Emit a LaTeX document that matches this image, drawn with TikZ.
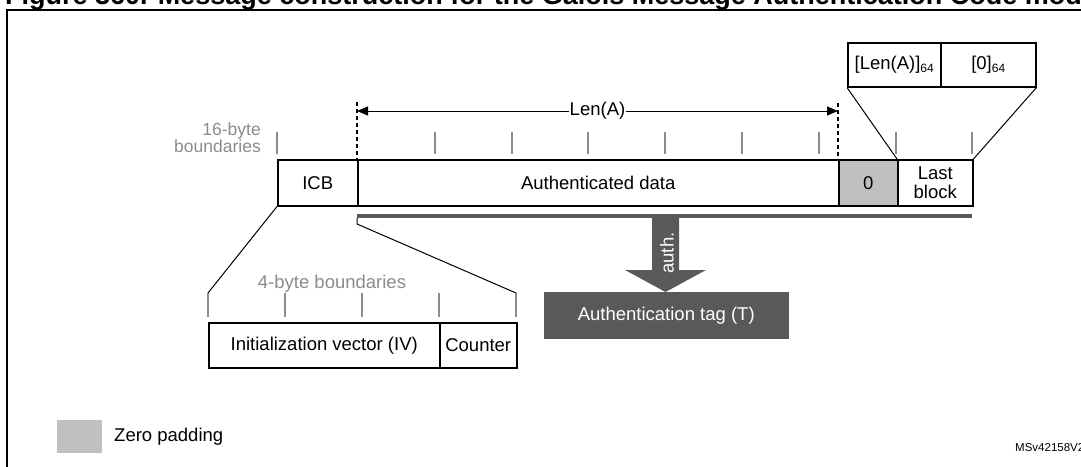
\documentclass[tikz,border=0pt]{standalone}
\usepackage{fontspec}
\setmainfont{Liberation Sans}
\usetikzlibrary{arrows.meta}
\definecolor{dgray}{HTML}{595959}
\definecolor{zgray}{HTML}{C0C0C0}
\definecolor{tgray}{HTML}{8C8C8C}
\newcommand{\subsix}[1]{\raisebox{-3pt}{\fontsize{12}{12}\selectfont #1}}
\begin{document}
\begin{tikzpicture}[x=1pt,y=-1pt,
  box/.style={draw,line width=1.5pt,inner sep=0pt,anchor=north west,
    font=\fontsize{18.5}{20}\selectfont,align=center},
  tickline/.style={draw=tgray,line width=2pt},
  zoomline/.style={line width=1pt},
  graytext/.style={inner sep=0pt,text=tgray,font=\fontsize{18.5}{18.5}\selectfont},
  dashline/.style={line width=1.2pt,dash pattern=on 4pt off 3pt},
]
\useasboundingbox (0,0) rectangle (1081,466);
\clip (0,0) rectangle (1081,466);
\fill[white] (0,0) rectangle (1081,466);

% title (cut by the top edge) and frame
\node[anchor=base west,inner sep=0pt,font=\fontsize{27}{30}\selectfont\bfseries] (title) at (5,4)
  {Figure 360. Message construction for the Galois Message Authentication Code mode};
\draw[line width=2pt] (7,480) -- (7,10) -- (1100,10);

% main row
\node[box,minimum width=80,minimum height=46] (icb) at (277,159) {ICB};
\node[box,minimum width=481,minimum height=46] (ad) at (357,159) {Authenticated data};
\node[box,fill=zgray,minimum width=59,minimum height=46] (zero) at (838,159) {0};
\node[box,minimum width=75,minimum height=46,font=\fontsize{18.5}{19}\selectfont] (last) at (897,159) {Last\\block};

% last block detail
\node[box,minimum width=93,minimum height=44] (lenbox) at (847,42) {[Len(A)]\subsix{64}};
\node[box,minimum width=95,minimum height=44] (zbox) at (940,42) {[0]\subsix{64}};

% ICB detail
\node[box,minimum width=231,minimum height=45] (iv) at (208,322) {Initialization vector (IV)};
\node[box,minimum width=77,minimum height=45] (ctr) at (439,322) {Counter};

% authentication tag
\node[box,draw=dgray,fill=dgray,text=white,minimum width=243,minimum height=45] (tag) at (544,292) {Authentication tag (T)};

% boundary labels
\node[graytext,anchor=base east,font=\fontsize{17.5}{17.5}\selectfont] (b16a) at (261,135) {16-byte};
\node[graytext,anchor=base east,font=\fontsize{17.5}{17.5}\selectfont] (b16b) at (261,152) {boundaries};
\node[graytext,anchor=base] (b4) at (332,288) {4-byte boundaries};

% ticks
\foreach \x in {277,435,512,588,665,742,819,896,972} \draw[tickline] (\x,132) -- (\x,154);
\foreach \x in {208,285,362,439,516} \draw[tickline] (\x,293) -- (\x,317);

% Len(A) dimension
\coordinate (d1) at (357,102);
\coordinate (d2) at (838,103);
\draw[dashline] (d1) -- (ad.north west);
\draw[dashline] (d2) -- (zero.north west);
\coordinate (la) at (357,111);
\coordinate (lb) at (838,111);
\draw[line width=1pt,{Triangle[length=11pt,width=9pt]}-{Triangle[length=11pt,width=9pt]}]
  (la) -- node[fill=white,inner sep=1pt,font=\fontsize{18.5}{18.5}\selectfont] (lenl) {Len(A)} (lb);

% bar
\coordinate (bara) at (357,216);
\coordinate (barb) at (972,216);
\draw[dgray,line width=4pt] (bara) -- (barb);

% auth arrow
\fill[dgray] (652,218) -- (679,218) -- (679,270) -- (706,270) -- (665.5,292) -- (625,270) -- (652,270) -- cycle;
\node[rotate=90,text=white,inner sep=0pt,font=\fontsize{18.5}{18.5}\selectfont] (auth) at (667,253) {auth.};

% zoom lines
\draw[zoomline] (lenbox.south west) -- (last.north west);
\draw[zoomline] (zbox.south east) -- (last.north east);
\coordinate (t4a) at (208,293);
\coordinate (t4e) at (516,293);
\coordinate (adb) at (357,218);
\draw[zoomline] (icb.south west) -- (t4a);
\draw[zoomline] (adb) -- (357,224) -- (t4e);

% legend
\node[fill=zgray,inner sep=0pt,minimum width=45,minimum height=33,anchor=north west] (leg) at (57,420) {};
\node[anchor=west,inner sep=0pt,font=\fontsize{18.5}{18.5}\selectfont] (legt) at (114,437) {Zero padding};
\node[anchor=base west,inner sep=0pt,font=\fontsize{11.5}{13}\selectfont] (ms) at (1015,451) {MSv42158V2};
\end{tikzpicture}
\end{document}
